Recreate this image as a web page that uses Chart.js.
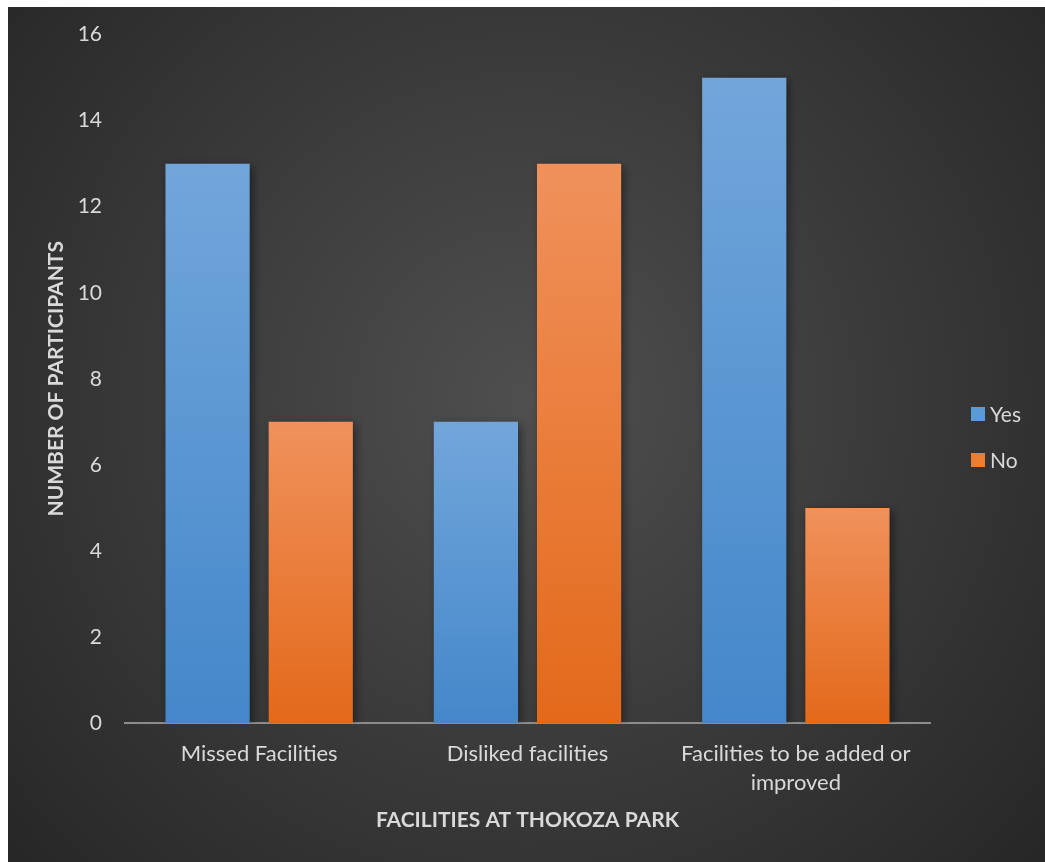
<!DOCTYPE html>
<html>
<head>
<meta charset="utf-8">
<script src="https://cdn.jsdelivr.net/npm/chart.js@4/dist/chart.umd.min.js"></script>
<style>
  html, body { margin: 0; padding: 0; background: #fff; }
  #wrap { position: absolute; left: 8px; top: 7px; width: 1037px; height: 855px; }
</style>
</head>
<body>
<div id="wrap"><canvas id="myChart" width="1037" height="855"></canvas></div>
<script>
var categories = ['Missed Facilities', 'Disliked facilities', ['Facilities to be added or', 'improved']];
var yesValues = [13, 7, 15];
var noValues = [7, 13, 5];
var yTicks = [0, 2, 4, 6, 8, 10, 12, 14, 16];

var FONT = 'Lato, "Open Sans", sans-serif';
var TEXT = '#d9d9d9';

// vertical gradient for one bar, light at the top, darker at the base
function barFill(top, bottom, solid) {
  return function (c) {
    var chart = c.chart;
    if (!chart.chartArea || c.type !== 'data') return solid;
    var y = chart.scales.y;
    var y0 = y.getPixelForValue(c.raw);
    var y1 = y.getPixelForValue(0);
    var g = chart.ctx.createLinearGradient(0, y0, 0, y1);
    g.addColorStop(0, top);
    g.addColorStop(1, bottom);
    return g;
  };
}

// dark radial backdrop
var backdrop = {
  id: 'backdrop',
  beforeDraw: function (chart) {
    var ctx = chart.ctx, w = chart.width, h = chart.height;
    var g = ctx.createRadialGradient(w * 0.5, h * 0.46, 0, w * 0.5, h * 0.46, w * 0.68);
    g.addColorStop(0, '#4f4f4f');
    g.addColorStop(1, '#262626');
    ctx.save();
    ctx.fillStyle = g;
    ctx.fillRect(0, 0, w, h);
    ctx.restore();
  }
};

// soft drop shadow under the bars
var barShadow = {
  id: 'barShadow',
  beforeDatasetsDraw: function (chart) {
    var ctx = chart.ctx;
    ctx.save();
    ctx.shadowColor = 'rgba(0,0,0,0.45)';
    ctx.shadowBlur = 9;
    ctx.shadowOffsetX = 3;
    ctx.shadowOffsetY = 2;
  },
  afterDatasetsDraw: function (chart) {
    chart.ctx.restore();
  }
};

// legend stacked on the right
var sideLegend = {
  id: 'sideLegend',
  afterDraw: function (chart) {
    var ctx = chart.ctx;
    var x = chart.chartArea.right + 41;
    var y = 407;
    ctx.save();
    ctx.font = '21px ' + FONT;
    ctx.textBaseline = 'middle';
    chart.data.datasets.forEach(function (ds, i) {
      var cy = y + i * 46;
      ctx.fillStyle = ds.legendColor;
      ctx.fillRect(x, cy - 7, 14, 14);
      ctx.fillStyle = TEXT;
      ctx.fillText(ds.label, x + 19, cy + 1);
    });
    ctx.restore();
  }
};

new Chart('myChart', {
  type: 'bar',
  data: {
    labels: categories,
    datasets: [{
      label: 'Yes',
      data: yesValues,
      legendColor: '#5b9bd5',
      backgroundColor: barFill('#72a6db', '#4487ca', '#5b9bd5')
    }, {
      label: 'No',
      data: noValues,
      legendColor: '#ed7d31',
      backgroundColor: barFill('#f0915c', '#e3691a', '#ed7d31')
    }]
  },
  options: {
    responsive: false,
    animation: false,
    events: [],
    categoryPercentage: 0.769,
    barPercentage: 0.816,
    layout: { padding: { top: 15, right: 115, bottom: 0, left: 0 } },
    plugins: {
      legend: { display: false },
      tooltip: { enabled: false }
    },
    scales: {
      x: {
        z: 1,
        grid: { display: false },
        border: { display: true, color: '#8c8c8c', width: 2 },
        ticks: {
          color: TEXT,
          font: { family: FONT, size: 22, lineHeight: 1.32 },
          padding: 8,
          maxRotation: 0
        },
        title: {
          display: true,
          text: 'FACILITIES AT THOKOZA PARK',
          color: TEXT,
          font: { family: FONT, size: 21, weight: 'bold' },
          padding: { top: 0, bottom: 29 }
        },
        afterFit: function (s) { s.height = 139; }
      },
      y: {
        min: 0,
        max: 16,
        grid: { display: false },
        border: { display: false },
        afterBuildTicks: function (s) {
          s.ticks = yTicks.map(function (v) { return { value: v }; });
        },
        ticks: {
          color: TEXT,
          font: { family: FONT, size: 21 },
          padding: 15
        },
        title: {
          display: true,
          text: 'NUMBER OF PARTICIPANTS',
          color: TEXT,
          font: { family: FONT, size: 21, weight: 'bold' },
          padding: { top: 36, bottom: 0 }
        },
        afterFit: function (s) { s.width = 117; }
      }
    }
  },
  plugins: [backdrop, barShadow, sideLegend]
});
</script>
</body>
</html>
